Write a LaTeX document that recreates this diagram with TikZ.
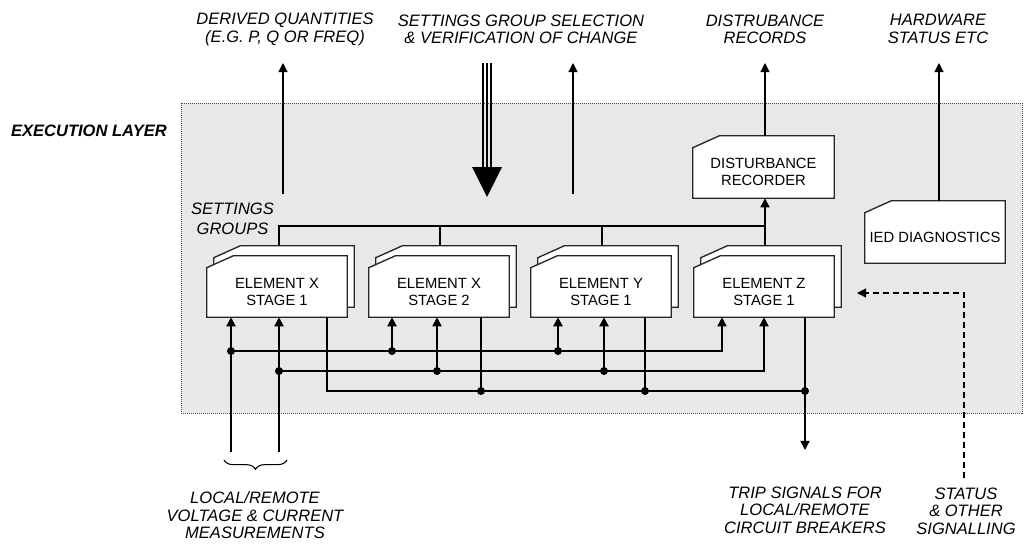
\documentclass[tikz,border=0pt]{standalone}
\usepackage{fontspec}
\setmainfont{Liberation Sans}
\usetikzlibrary{arrows.meta,decorations.pathreplacing}
\newcommand\cutpoly[1]{\path[boxline] ([yshift=-9pt]#1.north west) -- ([xshift=20pt]#1.north west) -- (#1.north east) -- (#1.south east) -- (#1.south west) -- cycle;}
\begin{document}
\begin{tikzpicture}[x=0.75pt,y=-0.75pt,
  ln/.style={line width=1pt, black},
  thk/.style={line width=1.5pt, black},
  arr/.style={-{Triangle[length=6.8pt,width=6.8pt]}},
  dot/.style={circle, fill=black, inner sep=0pt, minimum size=6pt},
  boxshape/.style={rectangle, inner sep=0pt, minimum width=105pt, minimum height=45.75pt},
  btext/.style={font=\fontsize{11.1}{12.75}\selectfont, align=center, inner sep=0pt},
  lab/.style={font=\fontsize{12.4}{13}\selectfont\itshape, align=center, inner sep=0pt},
  boxline/.style={draw=black!85, line width=1pt, fill=white},
  dsh/.style={line width=0.8pt, dash pattern=on 4.5pt off 3pt},
]
\useasboundingbox (0,0) rectangle (1026,546);
% execution layer
\draw[fill=gray!18, draw=black!70, line width=0.75pt, dash pattern=on 0.75pt off 0.75pt] (181,103) rectangle (1022,413);
\node[lab, font=\fontsize{12.4}{13}\selectfont\bfseries\itshape] (el) at (89,131) {EXECUTION LAYER};
\node[lab, font=\fontsize{12.4}{15}\selectfont\itshape] (sgl) at (232.5,219) {SETTINGS\\GROUPS};

% top labels
\node[lab] (l1) at (285,29.5) {DERIVED QUANTITIES\\(E.G. P, Q OR FREQ)};
\node[lab] (l2) at (521,29.5) {SETTINGS GROUP SELECTION\\\& VERIFICATION OF CHANGE};
\node[lab] (l3) at (765,29) {DISTRUBANCE\\RECORDS};
\node[lab] (l4) at (938,29) {HARDWARE\\STATUS ETC};

% bottom labels
\node[lab, font=\fontsize{12.4}{13.1}\selectfont\itshape] (lm) at (255,515.5) {LOCAL/REMOTE\\VOLTAGE \& CURRENT\\MEASUREMENTS};
\node[lab, font=\fontsize{12.4}{13.1}\selectfont\itshape] (tr) at (805,510) {TRIP SIGNALS FOR\\LOCAL/REMOTE\\CIRCUIT BREAKERS};
\node[lab, font=\fontsize{12.4}{13.1}\selectfont\itshape] (so) at (966,511) {STATUS\\\& OTHER\\SIGNALLING};

% box geometry nodes
\node[boxshape] (ex1b) at (284,276.5) {};
\node[boxshape] (ex2b) at (446,276.5) {};
\node[boxshape] (eyb) at (608,276.5) {};
\node[boxshape] (ezb) at (771,276.5) {};
\node[boxshape] (ex1) at (277,286.5) {};
\node[boxshape] (ex2) at (439,286.5) {};
\node[boxshape] (ey) at (601,286.5) {};
\node[boxshape] (ez) at (764,286.5) {};
\node[boxshape, minimum width=105.75pt, minimum height=46.5pt] (rec) at (763.5,167) {};
\node[boxshape, minimum width=105pt, minimum height=46.5pt] (ied) at (935,232) {};

% settings group bus
\coordinate (s1) at (279,226);
\coordinate (s2) at (440,226);
\coordinate (s3) at (602,226);
\coordinate (s4) at (765,226);
\draw[ln] (s1 |- ex1b.north) -- (s1) -- (s4);
\draw[ln] (s2) -- (s2 |- ex2b.north);
\draw[ln] (s3) -- (s3 |- eyb.north);

% element boxes
\cutpoly{ex1b}\cutpoly{ex1}
\cutpoly{ex2b}\cutpoly{ex2}
\cutpoly{eyb}\cutpoly{ey}
\cutpoly{ezb}\cutpoly{ez}
\cutpoly{rec}\cutpoly{ied}
\node[btext] (ex1t) at (277,291.5) {ELEMENT X\\STAGE 1};
\node[btext] (ex2t) at (439,291.5) {ELEMENT X\\STAGE 2};
\node[btext] (eyt) at (601,291.5) {ELEMENT Y\\STAGE 1};
\node[btext] (ezt) at (764,291.5) {ELEMENT Z\\STAGE 1};
\node[btext] (rect) at (763.5,171.5) {DISTURBANCE\\RECORDER};
\node[btext] (iedt) at (935,237) {IED DIAGNOSTICS};

% Z to recorder
\draw[ln,arr] (s4 |- ezb.north) -- (s4 |- rec.south);

% top arrows
\coordinate (dq) at (283,194); \coordinate (t1) at (283,63);
\coordinate (vq) at (573,194); \coordinate (t2) at (573,63);
\coordinate (t3) at (765,63);
\coordinate (t4) at (939,63);
\draw[ln,arr] (dq) -- (t1);
\draw[ln,arr] (vq) -- (t2);
\draw[ln,arr] (t3 |- rec.north) -- (t3);
\draw[ln,arr] (t4 |- ied.north) -- (t4);

% settings selection thick arrow
\coordinate (sg) at (487,63); \coordinate (sgt) at (487,197);
\draw[line width=1.5pt] (483,63) -- (483,168);
\draw[line width=1.5pt] (487,63) -- (487,168);
\draw[line width=1.5pt] (491,63) -- (491,168);
\fill (472,167) -- (502,167) -- (sgt) -- cycle;

% measurement inputs
\coordinate (m1) at (231,452);
\coordinate (m2) at (279,452);
\coordinate (da1) at (231,351);
\coordinate (da2) at (392,351);
\coordinate (da3) at (558,351);
\coordinate (ca) at (722,351);
\coordinate (db1) at (279,371);
\coordinate (db2) at (437,371);
\coordinate (db3) at (604,371);
\coordinate (cb) at (764,371);
\coordinate (c1) at (327,391);
\coordinate (dc2) at (481,391);
\coordinate (dc3) at (645,391);
\coordinate (dc4) at (805,391);
\coordinate (trip) at (805,450);

% output bus
\draw[ln] (c1 |- ex1.south) -- (c1) -- (dc4);
\draw[ln] (dc2 |- ex2.south) -- (dc2);
\draw[ln] (dc3 |- ey.south) -- (dc3);
\draw[ln,arr] (dc4 |- ez.south) -- (trip);

% input buses
\draw[ln,arr] (da1) -- (ca) -- (ca |- ez.south);
\draw[ln,arr] (db1) -- (cb) -- (cb |- ez.south);
\draw[thk,arr] (m1) -- (m1 |- ex1.south);
\draw[thk,arr] (m2) -- (m2 |- ex1.south);
\draw[thk,arr] (da2) -- (da2 |- ex2.south);
\draw[thk,arr] (db2) -- (db2 |- ex2.south);
\draw[thk,arr] (da3) -- (da3 |- ey.south);
\draw[thk,arr] (db3) -- (db3 |- ey.south);

% dots
\foreach \p in {da1,da2,da3,db1,db2,db3,dc2,dc3,dc4} \node[dot] at (\p) {};

% brace
\coordinate (br1) at (224,460); \coordinate (br2) at (287,460);
\draw[line width=0.8pt, decorate, decoration={brace, mirror, amplitude=7pt}] (br1) -- (br2);

% status dashed
\coordinate (sd0) at (964,478);
\coordinate (sd1) at (964,293);
\coordinate (sd2) at (857,293);
\draw[dsh,arr] (sd0) -- (sd1) -- (sd2);
\end{tikzpicture}
\end{document}
